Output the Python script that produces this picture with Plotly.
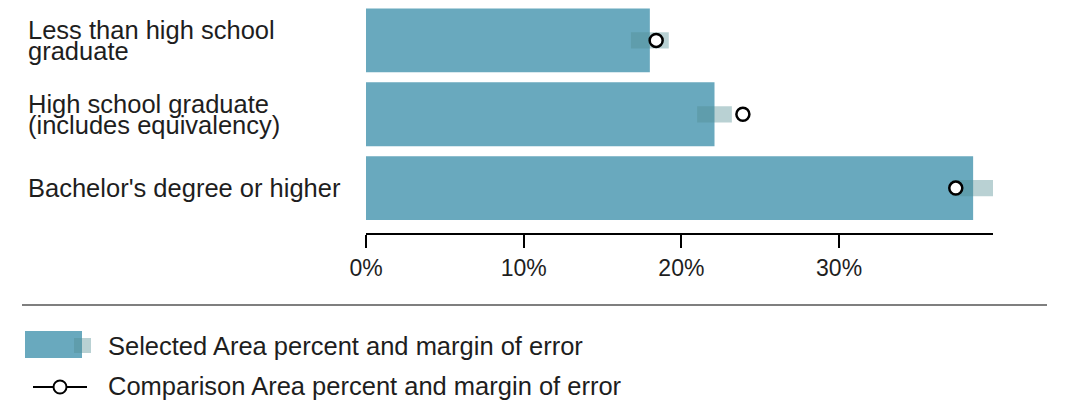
import plotly.graph_objects as go

# ---- data ----
categories = ["Less than high school<br>graduate",
              "High school graduate<br>(includes equivalency)",
              "Bachelor's degree or higher"]
selected_pct = [18.0, 22.1, 38.5]
selected_moe = [1.2, 1.1, 1.3]
comparison_pct = [18.4, 23.9, 37.4]
comparison_moe = [0.2, 0.2, 0.2]
tick_values = [0, 10, 20, 30]
tick_labels = ["0%", "10%", "20%", "30%"]
legend_labels = ["Selected Area percent and margin of error",
                 "Comparison Area percent and margin of error"]

# page body has an 8px margin: design in screen pixels, convert to figure
OFF = 8
W, H = 1069 - OFF, 401 - OFF
FONT = "Liberation Sans, Arial, Helvetica, sans-serif"
TXT = "#1e1e1e"
BAR = "#69a9be"
MOE_COL = "rgba(80,140,145,0.4)"


def px(x):
    return (x - OFF) / W


def py(y):
    return (H - (y - OFF)) / H


fig = go.Figure()

# Selected area bars
fig.add_trace(go.Bar(
    y=categories, x=selected_pct, orientation="h",
    marker=dict(color=BAR, line=dict(width=0)),
    width=0.865, showlegend=False, hoverinfo="x+y",
))
# Selected area margin of error
fig.add_trace(go.Bar(
    y=categories,
    x=[2 * m for m in selected_moe],
    base=[v - m for v, m in zip(selected_pct, selected_moe)],
    orientation="h",
    marker=dict(color=MOE_COL, line=dict(width=0)),
    width=0.22, showlegend=False, hoverinfo="skip",
))
# Comparison area points
fig.add_trace(go.Scatter(
    y=categories, x=comparison_pct, mode="markers",
    marker=dict(symbol="circle", size=13, color="white",
                line=dict(color="black", width=2.5)),
    error_x=dict(type="data", array=comparison_moe, color="black",
                 thickness=2, width=0),
    showlegend=False,
))

fig.update_layout(
    width=W, height=H, autosize=False,
    margin=dict(l=0, r=0, t=0, b=0, pad=0, autoexpand=False),
    paper_bgcolor="white", plot_bgcolor="white",
    barmode="overlay",
    font=dict(family=FONT, color=TXT, size=24),
    xaxis=dict(
        domain=[px(366), px(993)], range=[0, 39.76],
        showgrid=False, zeroline=False, automargin=False,
        showline=True, linecolor="black", linewidth=2,
        ticks="outside", ticklen=13, tickwidth=2, tickcolor="black",
        tickvals=tick_values, ticktext=tick_labels,
        tickfont=dict(family=FONT, size=23, color=TXT),
        ticklabelstandoff=0,
        fixedrange=True,
    ),
    yaxis=dict(
        domain=[py(233), 1.0], range=[2.608, -0.547 + OFF / 74],
        showgrid=False, zeroline=False, showline=False, automargin=False,
        showticklabels=False, ticks="", fixedrange=True,
    ),
)

# Category labels, left aligned, tight line spacing
line_gap = 21.5
for cat in categories:
    lines = cat.split("<br>")
    n = len(lines)
    for i, ln in enumerate(lines):
        shift = ((n - 1) / 2 - i) * line_gap
        fig.add_annotation(
            x=px(26), xref="paper", y=cat, yref="y",
            text=ln, showarrow=False, xanchor="left", yanchor="middle",
            yshift=shift, font=dict(family=FONT, size=25.5, color=TXT),
        )

# Separator line
fig.add_shape(type="line", xref="paper", yref="paper",
              x0=px(22), x1=px(1047), y0=py(305), y1=py(305),
              line=dict(color="#555555", width=1.5))

# Legend: selected swatch
fig.add_shape(type="rect", xref="paper", yref="paper",
              x0=px(25), x1=px(82), y0=py(358), y1=py(331),
              fillcolor=BAR, line=dict(width=0))
fig.add_shape(type="rect", xref="paper", yref="paper",
              x0=px(74), x1=px(91), y0=py(353), y1=py(338),
              fillcolor=MOE_COL, line=dict(width=0))
# Legend: comparison symbol
fig.add_shape(type="line", xref="paper", yref="paper",
              x0=px(33), x1=px(87), y0=py(387), y1=py(387),
              line=dict(color="black", width=2))
fig.add_shape(type="circle", xref="paper", yref="paper",
              x0=px(53.5), x1=px(66.5), y0=py(393.5), y1=py(380.5),
              fillcolor="white", line=dict(color="black", width=2))

for lbl, yy in zip(legend_labels, [346, 386]):
    fig.add_annotation(
        x=px(106), xref="paper", y=py(yy), yref="paper",
        text=lbl, showarrow=False, xanchor="left", yanchor="middle",
        font=dict(family=FONT, size=25.5, color=TXT),
    )

fig.write_html("out.html")
